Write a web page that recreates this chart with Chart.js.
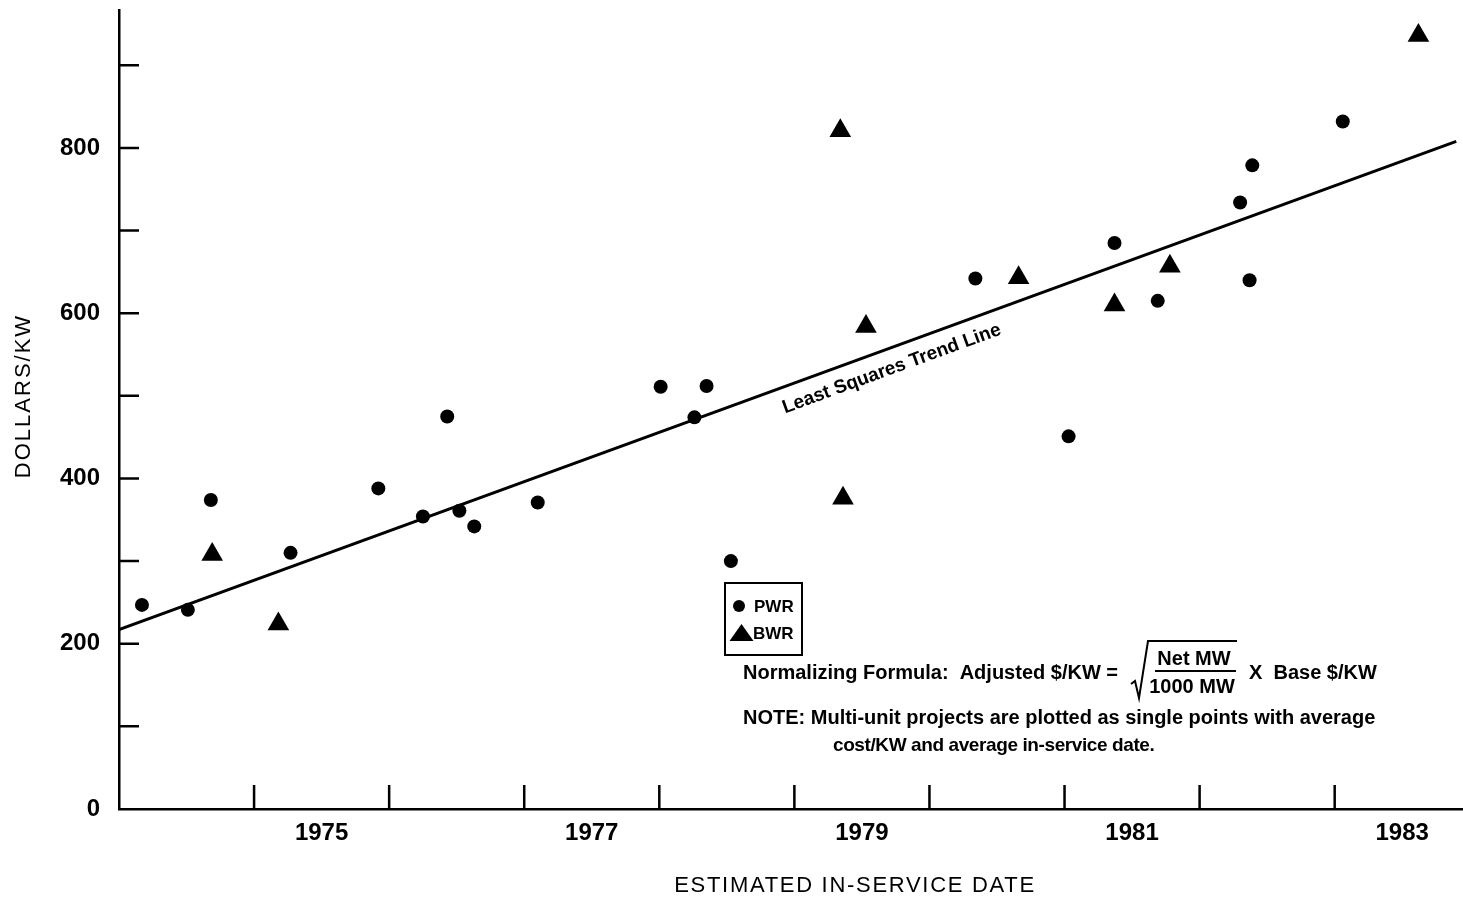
<!DOCTYPE html>
<html>
<head>
<meta charset="utf-8">
<script src="https://cdn.jsdelivr.net/npm/chart.js@4.4.1/dist/chart.umd.min.js"></script>
<style>
  body { margin: 0; background: #fff; }
  #wrap { width: 1463px; height: 898px; }
</style>
</head>
<body>
<div id="wrap"><canvas id="grafico"></canvas></div>
<script>
// PWR plants: estimated in-service date (decimal year) and $/KW
const pwrYears = [1974.17, 1974.51, 1974.68, 1975.27, 1975.92, 1976.25, 1976.43, 1976.52,
  1976.63, 1977.10, 1978.01, 1978.26, 1978.35, 1978.53, 1980.34, 1981.03, 1981.37,
  1981.69, 1982.30, 1982.37, 1982.39, 1983.06];
const pwrCost = [247, 241, 374, 310, 388, 354, 475, 361,
  342, 371, 511, 474, 512, 300, 642, 451, 685,
  615, 734, 640, 779, 832];

// BWR plants
const bwrYears = [1974.69, 1975.18, 1979.34, 1979.36, 1979.53, 1980.66, 1981.37, 1981.78, 1983.62];
const bwrCost = [308, 224, 821, 376, 584, 643, 610, 657, 936];

// least squares trend line end points
const trendYears = [1974, 1983.9];
const trendCost = [217, 808];

const xTickYears = [1975, 1976, 1977, 1978, 1979, 1980, 1981, 1982, 1983];
const xLabelYears = [1975, 1977, 1979, 1981, 1983];
const yTickValues = [100, 200, 300, 400, 500, 600, 700, 800, 900];
const yLabelValues = [0, 200, 400, 600, 800];

const fuente = '"Liberation Sans", Arial, Helvetica, sans-serif';

function aPuntos(xs, ys) {
  return xs.map((x, i) => ({ x: x, y: ys[i] }));
}

const marcos = {
  id: "marcos",
  afterDraw(chart) {
    const ctx = chart.ctx;
    const xs = chart.scales.x;
    const ys = chart.scales.y;
    const area = chart.chartArea;

    ctx.save();
    ctx.strokeStyle = "#000";
    ctx.fillStyle = "#000";
    ctx.lineWidth = 2.5;

    // tick marks pointing into the plot
    ctx.beginPath();
    xTickYears.forEach((yr) => {
      const px = xs.getPixelForValue(yr);
      ctx.moveTo(px, area.bottom);
      ctx.lineTo(px, area.bottom - 24);
    });
    yTickValues.forEach((v) => {
      const py = ys.getPixelForValue(v);
      ctx.moveTo(area.left, py);
      ctx.lineTo(area.left + 20, py);
    });
    ctx.stroke();

    // axis titles
    ctx.font = "22px " + fuente;
    ctx.letterSpacing = "1.7px";
    ctx.textAlign = "center";
    ctx.textBaseline = "middle";
    ctx.fillText("ESTIMATED IN-SERVICE DATE", 855, 886);
    ctx.save();
    ctx.translate(24, 396);
    ctx.rotate(-Math.PI / 2);
    ctx.letterSpacing = "2px";
    ctx.fillText("DOLLARS/KW", 0, 0);
    ctx.restore();
    ctx.letterSpacing = "0px";

    // label along the trend line
    const x1 = xs.getPixelForValue(trendYears[0]);
    const y1 = ys.getPixelForValue(trendCost[0]);
    const x2 = xs.getPixelForValue(trendYears[1]);
    const y2 = ys.getPixelForValue(trendCost[1]);
    const ang = Math.atan2(y2 - y1, x2 - x1);
    const yrLabel = 1979.67;
    const t = (yrLabel - trendYears[0]) / (trendYears[1] - trendYears[0]);
    const lx = x1 + (x2 - x1) * t;
    const ly = y1 + (y2 - y1) * t;
    ctx.save();
    ctx.translate(lx, ly);
    ctx.rotate(ang);
    ctx.font = "bold 19px " + fuente;
    ctx.fillText("Least Squares Trend Line", 0, 20);
    ctx.restore();

    // legend box
    ctx.lineWidth = 2;
    ctx.strokeRect(725, 583, 77, 72);
    ctx.beginPath();
    ctx.arc(739, 606, 6, 0, Math.PI * 2);
    ctx.fill();
    ctx.beginPath();
    ctx.moveTo(741.5, 624);
    ctx.lineTo(753.5, 641);
    ctx.lineTo(729.5, 641);
    ctx.closePath();
    ctx.fill();
    ctx.font = "bold 17px " + fuente;
    ctx.textAlign = "left";
    ctx.textBaseline = "alphabetic";
    ctx.fillText("PWR", 754, 612);
    ctx.fillText("BWR", 753, 639);

    // normalizing formula
    ctx.font = "bold 20px " + fuente;
    ctx.fillText("Normalizing Formula:  Adjusted $/KW =", 743, 679);
    ctx.fillText("X  Base $/KW", 1249, 679);
    ctx.textAlign = "center";
    ctx.fillText("Net MW", 1194, 665);
    ctx.fillText("1000 MW", 1192, 693);
    ctx.beginPath();
    ctx.moveTo(1155, 671);
    ctx.lineTo(1236, 671);
    ctx.moveTo(1131, 684);
    ctx.lineTo(1135, 681);
    ctx.lineTo(1139, 698);
    ctx.lineTo(1148, 641);
    ctx.lineTo(1237, 641);
    ctx.stroke();

    // note
    ctx.textAlign = "left";
    ctx.fillText("NOTE: Multi-unit projects are plotted as single points with average", 743, 724);
    ctx.font = "bold 19px " + fuente;
    ctx.letterSpacing = "-0.4px";
    ctx.fillText("cost/KW and average in-service date.", 833, 751);
    ctx.restore();
  }
};

const ctxGrafico = document.querySelector("#grafico");

new Chart(ctxGrafico, {
  type: "scatter",
  data: {
    datasets: [
      {
        label: "PWR",
        data: aPuntos(pwrYears, pwrCost),
        pointStyle: "circle",
        pointRadius: 7,
        pointBorderWidth: 0,
        backgroundColor: "#000",
        borderColor: "#000",
        clip: false
      },
      {
        label: "BWR",
        data: aPuntos(bwrYears, bwrCost),
        pointStyle: "triangle",
        pointRadius: 12.5,
        pointBorderWidth: 0,
        backgroundColor: "#000",
        borderColor: "#000",
        clip: false
      },
      {
        type: "line",
        label: "Least Squares Trend Line",
        data: aPuntos(trendYears, trendCost),
        borderColor: "#000",
        borderWidth: 3,
        pointRadius: 0,
        fill: false
      }
    ]
  },
  options: {
    responsive: true,
    maintainAspectRatio: false,
    animation: false,
    events: [],
    layout: { autoPadding: false, padding: { top: 10, left: 0, right: 0, bottom: 0 } },
    plugins: {
      legend: { display: false },
      tooltip: { enabled: false }
    },
    scales: {
      x: {
        type: "linear",
        min: 1974,
        max: 1983.95,
        grid: { display: false, drawTicks: false },
        border: { display: true, color: "#000", width: 2.5 },
        ticks: {
          autoSkip: false,
          maxRotation: 0,
          padding: 10,
          color: "#000",
          font: { family: fuente, size: 24, weight: "bold" },
          callback: (v) => String(Math.floor(v))
        },
        afterBuildTicks: (scale) => {
          scale.ticks = xLabelYears.map((yr) => ({ value: yr + 0.5 }));
        },
        afterFit: (scale) => {
          scale.height = 89;
          scale.paddingLeft = 0;
          scale.paddingRight = 0;
        }
      },
      y: {
        min: 0,
        max: 967,
        grid: { display: false, drawTicks: false },
        border: { display: true, color: "#000", width: 2.5 },
        ticks: {
          padding: 19,
          color: "#000",
          font: { family: fuente, size: 24, weight: "bold" }
        },
        afterBuildTicks: (scale) => {
          scale.ticks = yLabelValues.map((v) => ({ value: v }));
        },
        afterFit: (scale) => {
          scale.width = 119;
          scale.paddingTop = 0;
          scale.paddingBottom = 0;
        }
      }
    }
  },
  plugins: [marcos]
});
</script>
</body>
</html>
